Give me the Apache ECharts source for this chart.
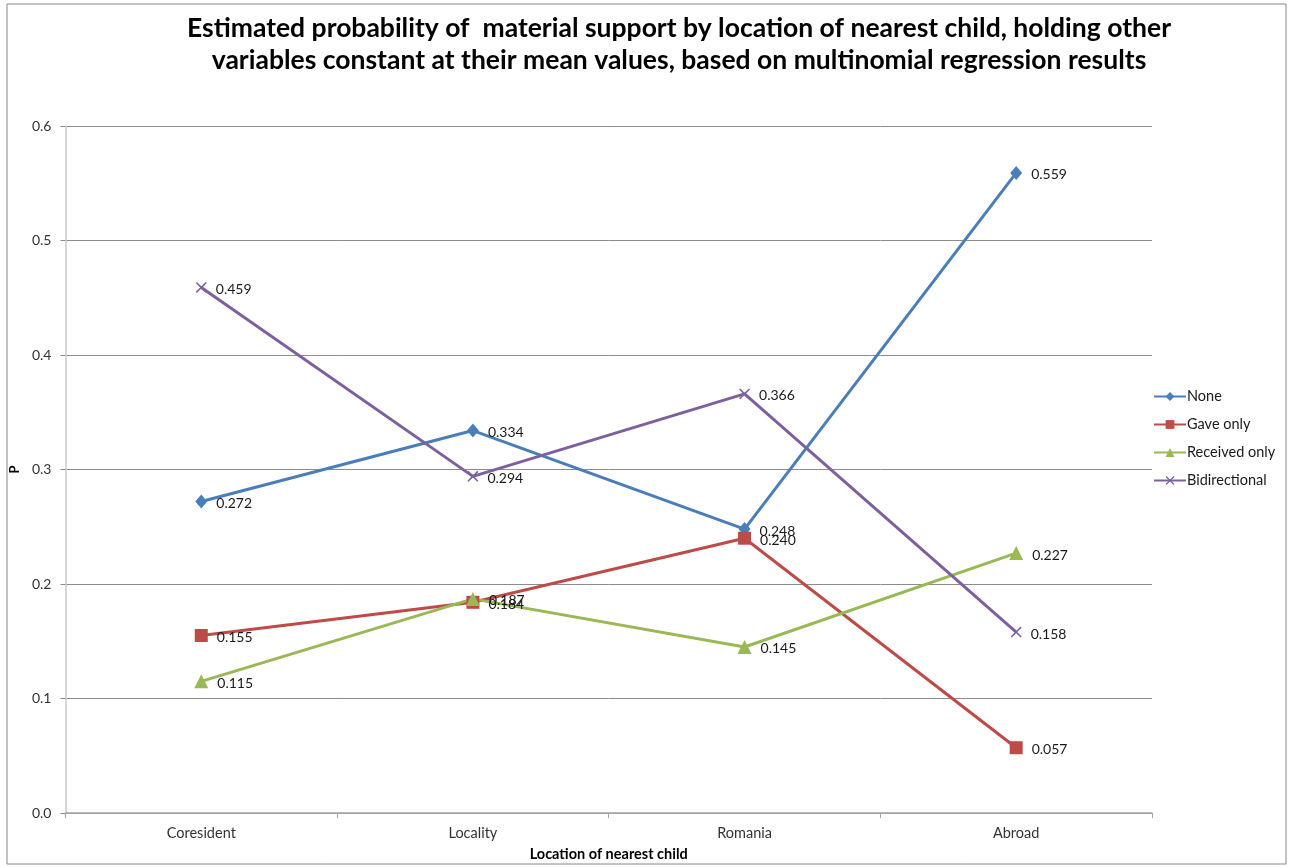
<!DOCTYPE html>
<html>
<head>
<meta charset="utf-8">
<script src="https://cdn.jsdelivr.net/npm/echarts@6/dist/echarts.min.js"></script>
<style>
  html, body { margin: 0; padding: 0; background: #fff; }
  #chart { width: 1291px; height: 867px; }
</style>
</head>
<body>
<div id="chart"></div>
<script>
// Location of the nearest child
const categories = ['Coresident', 'Locality', 'Romania', 'Abroad'];

// Estimated probabilities per support type
const noneValues = [0.272, 0.334, 0.248, 0.559];
const gaveOnlyValues = [0.155, 0.184, 0.240, 0.057];
const receivedOnlyValues = [0.115, 0.187, 0.145, 0.227];
const bidirectionalValues = [0.459, 0.294, 0.366, 0.158];

const seriesNames = ['None', 'Gave only', 'Received only', 'Bidirectional'];
const yTicks = { min: 0, max: 0.6, interval: 0.1 };

const FONT = 'Lato, "Liberation Sans", sans-serif';
const crossPath = 'path://M1,0L5,4L9,0L10,1L6,5L10,9L9,10L5,6L1,10L0,9L4,5L0,1Z';

function lineSeries(name, data, color, symbol, size) {
  return {
    name: name,
    type: 'line',
    data: data,
    symbol: symbol,
    symbolSize: size,
    showAllSymbol: true,
    lineStyle: { color: color, width: 3 },
    itemStyle: { color: color },
    emphasis: { disabled: true },
    label: {
      show: true,
      position: 'right',
      distance: 9,
      offset: [0, 2],
      formatter: p => p.value.toFixed(3),
      color: '#1a1a1a',
      fontFamily: FONT,
      fontSize: 14
    },
    animation: false
  };
}

const chart = echarts.init(document.getElementById('chart'));
chart.setOption({
  backgroundColor: '#fff',
  animation: false,
  title: {
    text: 'Estimated probability of  material support by location of nearest child, holding other\nvariables constant at their mean values, based on multinomial regression results',
    left: 674,
    top: 7,
    textAlign: 'center',
    textStyle: {
      fontFamily: FONT,
      fontWeight: 'bold',
      fontSize: 26.5,
      lineHeight: 32,
      color: '#000'
    }
  },
  graphic: [{
    type: 'rect',
    shape: { x: 7, y: 4, width: 1279, height: 860 },
    style: { fill: 'none', stroke: '#888', lineWidth: 1 },
    silent: true
  }],
  legend: {
    orient: 'vertical',
    left: 1148,
    top: 384,
    itemWidth: 32,
    itemHeight: 11,
    itemGap: 13,
    data: seriesNames,
    textStyle: { fontFamily: FONT, fontSize: 14.5, color: '#1a1a1a', padding: [0, 0, 0, -4] }
  },
  grid: { left: 62, right: 139, top: 126, bottom: 45 },
  xAxis: {
    type: 'category',
    data: categories,
    boundaryGap: true,
    name: 'Location of nearest child',
    nameLocation: 'middle',
    nameGap: 34,
    nameTextStyle: { fontFamily: FONT, fontWeight: 'bold', fontSize: 14.5, color: '#000' },
    axisLine: { lineStyle: { color: '#a6a6a6', width: 1.5 } },
    axisTick: { show: true, length: 5, lineStyle: { color: '#a6a6a6' } },
    axisLabel: { fontFamily: FONT, fontSize: 14.5, color: '#333', margin: 13 },
    splitLine: { show: false }
  },
  yAxis: {
    type: 'value',
    min: yTicks.min,
    max: yTicks.max,
    interval: yTicks.interval,
    name: 'P',
    nameLocation: 'middle',
    nameGap: 37,
    nameRotate: 90,
    nameTextStyle: { fontFamily: FONT, fontWeight: 'bold', fontSize: 13, color: '#000' },
    axisLine: { show: true, lineStyle: { color: '#c8c8c8', width: 1.5 } },
    axisTick: { show: true, length: 5, lineStyle: { color: '#8c8c8c' } },
    axisLabel: { fontFamily: FONT, fontSize: 14, color: '#333', margin: 14, formatter: v => v.toFixed(1) },
    splitLine: { show: true, lineStyle: { color: '#8c8c8c', width: 1 } }
  },
  series: [
    lineSeries(seriesNames[0], noneValues, '#4a7ebb', 'diamond', [12, 14]),
    lineSeries(seriesNames[1], gaveOnlyValues, '#be4b48', 'rect', 13),
    lineSeries(seriesNames[2], receivedOnlyValues, '#98b954', 'triangle', 14),
    lineSeries(seriesNames[3], bidirectionalValues, '#7d60a0', crossPath, 11)
  ]
});
</script>
</body>
</html>
